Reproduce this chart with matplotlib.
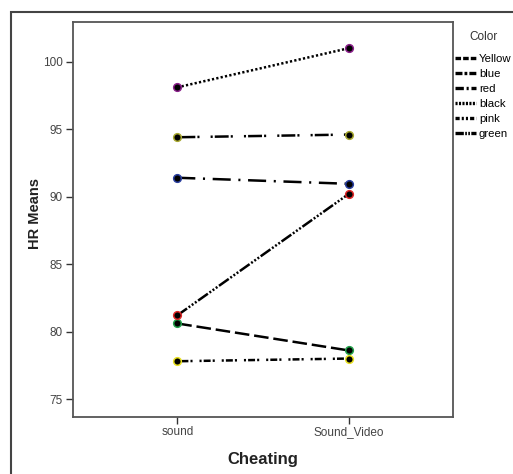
import matplotlib
matplotlib.use("Agg")
import matplotlib.pyplot as plt
from matplotlib.lines import Line2D
from matplotlib.patches import Rectangle

plt.rcParams["font.family"] = ["Liberation Sans", "DejaVu Sans"]
plt.rcParams["lines.scale_dashes"] = False

# data
categories = ["sound", "Sound_Video"]
labels = ["Yellow", "blue", "red", "black", "pink", "green"]
hr_yellow = [80.6, 78.6]
hr_blue = [91.4, 90.95]
hr_red = [94.4, 94.6]
hr_black = [98.1, 101.0]
hr_pink = [77.8, 78.0]
hr_green = [81.2, 90.2]
series = [hr_yellow, hr_blue, hr_red, hr_black, hr_pink, hr_green]

# styles (SPSS default dash cycle, marker edge colours as drawn)
dash_styles = [
    (0, (10.5, 3.5)),
    (0, (13, 5.5, 1.5, 5.5)),
    (0, (1.5, 1.5, 10, 1.5, 1.5, 8)),
    (0, (1.6, 1.6)),
    (0, (1.5, 1.5, 5, 1.5, 1.5, 5)),
    (0, (8.6, 1.4, 1.4, 1.4, 1.4, 1.4, 1.4, 1.4)),
]
legend_dashes = [
    (0, (4, 1.5)),
    (0, (5, 1.5, 2, 1.5)),
    (0, (6, 2, 1.5, 2)),
    (0, (1.5, 1)),
    (0, (3, 1.5, 1.5, 1.5, 1.5, 1.5)),
    (0, (6, 1, 1.2, 1, 1.2, 1)),
]
edge_colors = ["#22a04a", "#2a3f9f", "#a8a830", "#8a1f8a", "#e8e020", "#e02828"]

W, H = 513, 474
fig = plt.figure(figsize=(W / 100, H / 100), dpi=100)
ax = fig.add_axes([72.7 / W, 1 - 416.7 / H, (453.3 - 72.7) / W, (416.7 - 22.3) / H])

xpos = list(range(1, len(categories) + 1))
for lab, vals, ls, ec in zip(labels, series, dash_styles, edge_colors):
    ax.plot(xpos, vals, color="black", linewidth=1.8, linestyle=ls,
            dash_capstyle="butt", label=lab,
            marker="o", markersize=5.5, markerfacecolor="black",
            markeredgecolor=ec, markeredgewidth=1.1, zorder=3)

ax.set_xlim(0.39, 2.61)
ax.set_ylim(73.69, 102.92)
ax.set_yticks([75, 80, 85, 90, 95, 100])
ax.set_xticks(xpos)
ax.set_xticklabels(categories)
ax.tick_params(axis="both", direction="out", length=5, width=1.0,
               color="#333333", labelsize=8.5, labelcolor="#444444", pad=2)
for sp in ax.spines.values():
    sp.set_color("#555555")
    sp.set_linewidth(1.3)

ax.set_xlabel("Cheating", fontsize=12, fontweight="bold", color="#222222", labelpad=10)
ax.set_ylabel("HR Means", fontsize=10.5, fontweight="bold", color="#222222")
ax.yaxis.set_label_coords((42 - 72.7) / (453.3 - 72.7), 0.515)

# outer chart border (only left and top are inside the crop)
fig.patches.append(Rectangle((10.7 / W, -0.2), 1.0, 1 - 11.7 / H + 0.2,
                             transform=fig.transFigure, fill=False,
                             edgecolor="#444444", linewidth=1.5))

# legend
fig.text(483 / W, 1 - 37 / H, "Color", ha="center", va="center",
         fontsize=8.5, color="#333333")
handles = [Line2D([], [], color="black", linewidth=2.4, linestyle=ls,
                  dash_capstyle="butt")
           for ls in legend_dashes]
leg = fig.legend(handles, labels, loc="upper left",
                 bbox_to_anchor=(455 / W, 1 - 54 / H), frameon=False,
                 fontsize=8.2, handlelength=1.85, handletextpad=0.25,
                 labelspacing=0.44, borderaxespad=0, borderpad=0)

fig.savefig("out.png", dpi=100)
